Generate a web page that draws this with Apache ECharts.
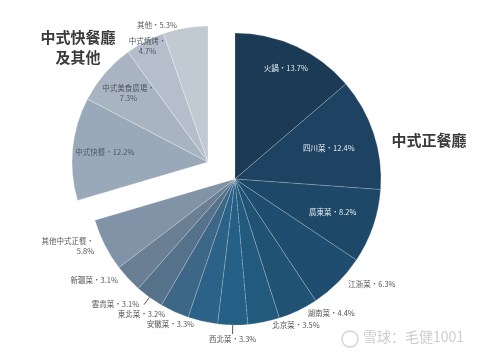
<!DOCTYPE html>
<html><head><meta charset="utf-8">
<script src="https://cdn.jsdelivr.net/npm/echarts@6/dist/echarts.min.js"></script>
<style>html,body{margin:0;padding:0;background:#fff}#c{width:480px;height:354px}</style>
</head><body><div id="c"></div>
<script>
// ---- data ----
const fullServiceNames = ['火鍋','四川菜','廣東菜','江浙菜','湖南菜','北京菜','西北菜','安徽菜','東北菜','雲貴菜','新疆菜','其他中式正餐'];
const fullServiceValues = [13.7,12.4,8.2,6.3,4.4,3.5,3.3,3.3,3.2,3.1,3.1,5.8];
const fastFoodNames = ['中式快餐','中式美食廣場','中式燒烤','其他'];
const fastFoodValues = [12.2,7.3,4.7,5.3];
const groupTitleFull = '中式正餐廳';
const groupTitleFast = '中式快餐廳\n及其他';
const watermark = '雪球：毛健1001';

// ---- styles ----
const fullColors = ['#1b3a56','#1d4262','#1e4868','#1f4d6f','#205273','#225a7e','#245f85','#2c6287','#3d6786','#56718a','#6a7f94','#8093a7'];
const fastColors = ['#9aa9ba','#a8b4c2','#b5bfcb','#c1c9d3'];
const fullInside = [0.8,0.65,0.68,0,0,0,0,0,0,0,0,0];   // 0 => outside label
const fastInside = [0.73,0.74,0.92,0];
const fullBreak = [0,0,0,0,0,0,0,0,0,0,0,1];
const fastBreak = [0,1,1,0];
const fullLine = [0,0,0,0,0,0,1,0,0,1,0,0];
const centerFull = [235,179], radiusFull = 146;
const centerFast = [208,162], radiusFast = 136;

const sum = a => a.reduce((s,v)=>s+v,0);
const fmt = (name, value, br) => name + '・' + (br ? '\n' : '') + value + '%';

function makeItems(names, values, colors, inside, brk, lines, insideColor, border) {
  return names.map((n,i) => ({
    name: n, value: values[i],
    itemStyle: { color: colors[i], borderColor: border, borderWidth: 0.7,
      borderType: n === '西北菜' ? 'dashed' : 'solid' },
    label: {
      show: true,
      position: inside[i] ? 'inside' : 'outside',
      color: inside[i] ? insideColor : '#555',
      formatter: fmt(n, values[i], brk[i]),
      align: inside[i] ? 'center' : undefined
    },
    labelLine: { show: !!(lines && lines[i]), length: lines && lines[i] ? 9 : 3, length2: lines && lines[i] ? 0 : 3,
      lineStyle: { color: '#555', width: 1 } }
  }));
}
const placeholder = v => ({ value: v, itemStyle: { color: 'transparent', borderWidth: 0 },
  label: { show: false }, labelLine: { show: false }, emphasis: { disabled: true }, tooltip: { show: false } });

const fullData = makeItems(fullServiceNames, fullServiceValues, fullColors, fullInside, fullBreak, fullLine, '#e6ecf2', 'rgba(255,255,255,0.28)')
  .concat([placeholder(sum(fastFoodValues))]);
const fastData = [placeholder(sum(fullServiceValues))]
  .concat(makeItems(fastFoodNames, fastFoodValues, fastColors, fastInside, fastBreak, null, '#4d5560', 'rgba(255,255,255,0.4)'));

function radialLayout(center, factors, offsetIdx) {
  return function (p) {
    const i = p.dataIndex - offsetIdx;
    const f = factors[i];
    if (!f) {
      if (p.text && p.text.indexOf('西北菜') === 0) return { align: 'center', verticalAlign: 'top', dx: 5 };
      return {};
    }
    const r = p.labelRect;
    const lx = r.x + r.width / 2, ly = r.y + r.height / 2;
    const k = f / 0.5;
    return { x: center[0] + (lx - center[0]) * k, y: center[1] + (ly - center[1]) * k };
  };
}

const baseLabel = { fontSize: 7.5, fontFamily: '"Noto Sans CJK TC", "Noto Sans", sans-serif', lineHeight: 10 };

const chart = echarts.init(document.getElementById('c'), null, { renderer: 'canvas' });
chart.setOption({
  animation: false,
  title: [
    { text: groupTitleFast, left: 73, top: 22, textAlign: 'center',
      textStyle: { fontSize: 15, fontWeight: 'bold', color: '#3a3a3a', lineHeight: 20, fontFamily: '"Noto Sans CJK TC", sans-serif' } },
    { text: groupTitleFull, left: 424, top: 128, textAlign: 'center',
      textStyle: { fontSize: 15, fontWeight: 'bold', color: '#3a3a3a', fontFamily: '"Noto Sans CJK TC", sans-serif' } }
  ],
  graphic: [
    { type: 'circle', shape: { cx: 350, cy: 339, r: 8 }, style: { fill: 'none', stroke: '#d4d4d4', lineWidth: 1.5 } },
    { type: 'text', left: 363, top: 330, style: { text: watermark, fill: '#cdcdcd', font: '14px "Noto Sans CJK SC", sans-serif' } }
  ],
  series: [
    { type: 'pie', center: centerFull, radius: [0, radiusFull], startAngle: 90, clockwise: true,
      avoidLabelOverlap: false, label: baseLabel, data: fullData,
      labelLayout: radialLayout(centerFull, fullInside, 0), emphasis: { disabled: true } },
    { type: 'pie', center: centerFast, radius: [0, radiusFast], startAngle: 90, clockwise: true,
      avoidLabelOverlap: false, label: baseLabel, data: fastData,
      labelLayout: radialLayout(centerFast, fastInside, 1), emphasis: { disabled: true } }
  ]
});
</script></body></html>
